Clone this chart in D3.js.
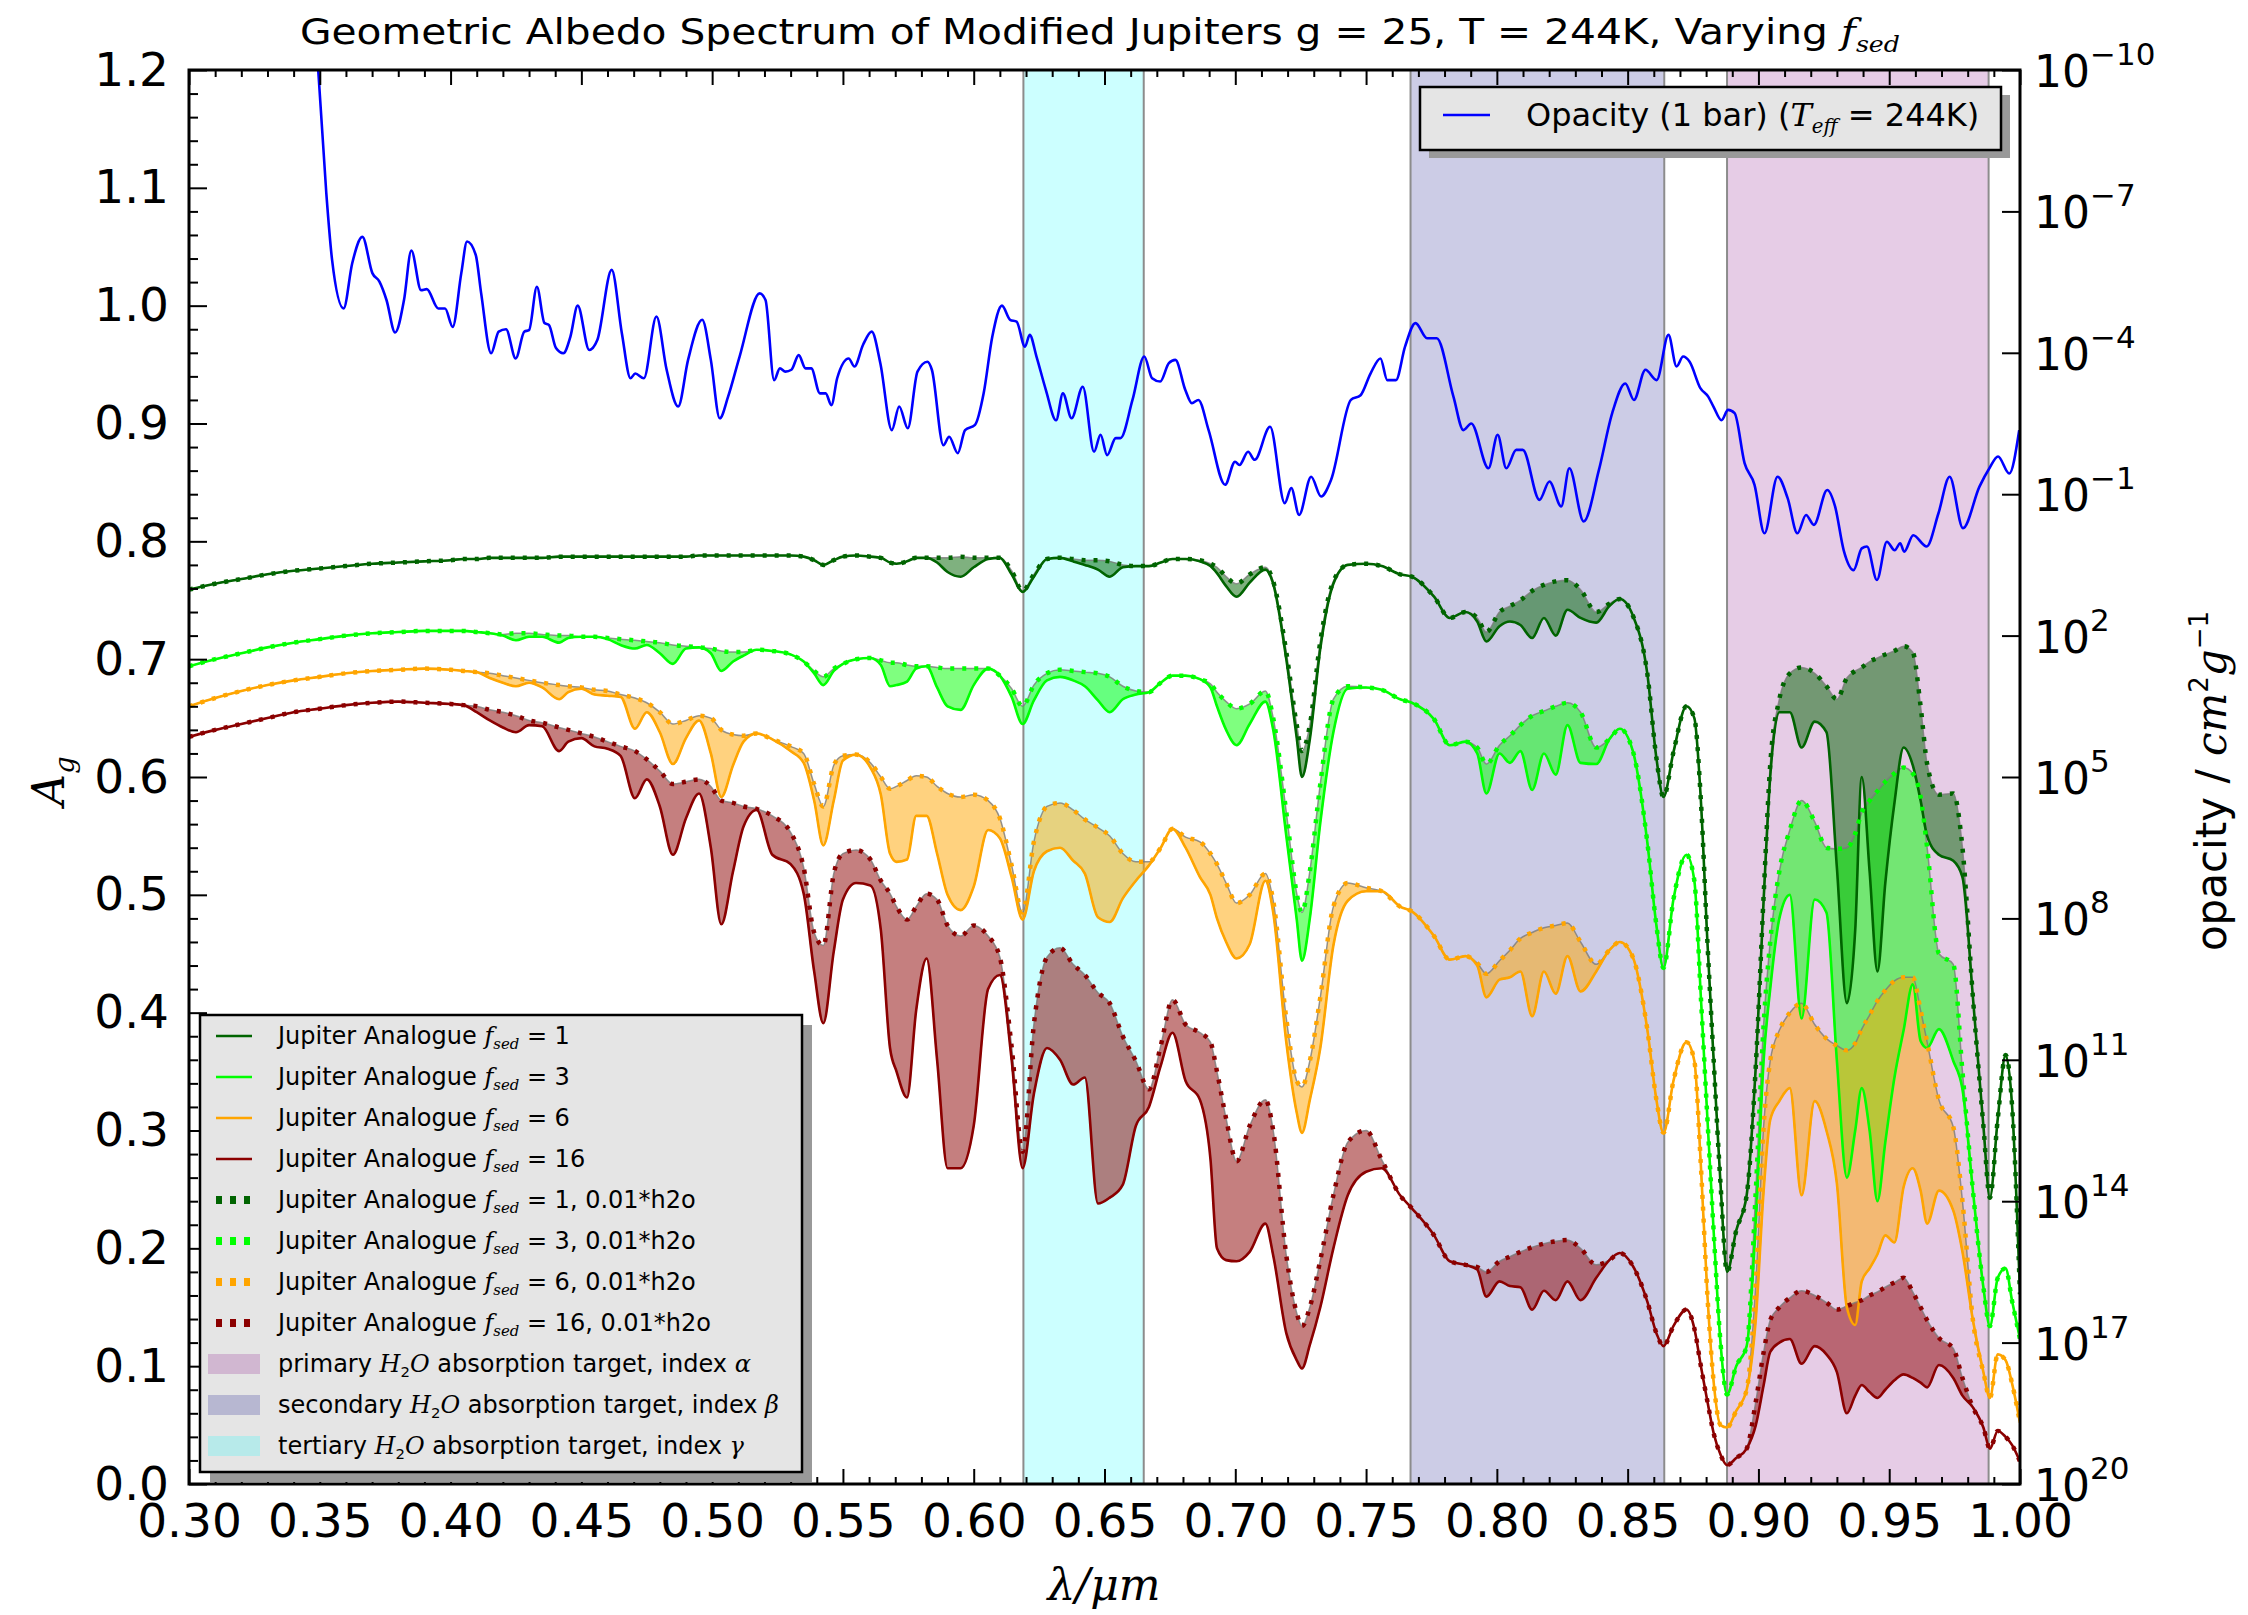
<!DOCTYPE html>
<html>
<head>
<meta charset="utf-8">
<script src="https://cdn.jsdelivr.net/npm/d3@7"></script>
<style>
  html, body { margin: 0; padding: 0; background: #ffffff; }
  svg text { font-family: "DejaVu Sans", sans-serif; fill: #000; }
</style>
</head>
<body>
<svg id="chart" width="2248" height="1615"></svg>
<script>
// ---------- data ----------
const wavelength = [
  0.300,0.310,0.320,0.330,0.340,0.350,0.360,0.370,0.380,0.390,
  0.400,0.405,0.410,0.415,0.420,0.425,0.430,0.435,0.4415,0.445,
  0.450,0.455,0.460,0.465,0.4705,0.475,0.480,0.485,0.490,0.495,
  0.4995,0.5035,0.508,0.512,0.517,0.523,0.530,0.535,0.539,0.5425,
  0.5465,0.550,0.555,0.5605,0.5645,0.568,0.5705,0.5745,0.578,0.582,
  0.586,0.590,0.595,0.600,0.6055,0.610,0.6145,0.6187,0.623,0.628,
  0.633,0.638,0.6425,0.6475,0.652,0.657,0.662,0.667,0.6715,0.676,
  0.681,0.6865,0.6905,0.693,0.6965,0.7005,0.7055,0.7115,0.7145,0.7195,
  0.7235,0.7255,0.7285,0.7325,0.7375,0.743,0.750,0.756,0.763,0.7675,
  0.776,0.782,0.788,0.7925,0.796,0.801,0.805,0.809,0.8135,0.818,
  0.8225,0.827,0.832,0.838,0.843,0.847,0.852,0.8575,0.861,0.8637,
  0.8675,0.8725,0.8755,0.878,0.8805,0.883,0.8855,0.888,0.8915,0.8955,
  0.899,0.902,0.9045,0.908,0.912,0.9165,0.9215,0.926,0.930,0.9338,
  0.937,0.9395,0.9425,0.9455,0.9485,0.952,0.9555,0.959,0.962,0.9645,
  0.969,0.9745,0.978,0.982,0.986,0.9885,0.9915,0.9945,0.997,1.000
];

const albedoFsed1 = [
  0.759,0.764,0.768,0.772,0.775,0.777,0.779,0.781,0.782,0.783,
  0.784,0.785,0.785,0.786,0.786,0.786,0.786,0.786,0.787,0.787,
  0.787,0.787,0.787,0.787,0.787,0.787,0.787,0.787,0.787,0.788,
  0.788,0.788,0.788,0.788,0.788,0.788,0.788,0.787,0.784,0.780,
  0.784,0.787,0.788,0.787,0.786,0.782,0.781,0.783,0.786,0.786,
  0.782,0.774,0.770,0.778,0.785,0.786,0.772,0.757,0.770,0.785,
  0.786,0.783,0.780,0.776,0.770,0.778,0.779,0.779,0.782,0.785,
  0.785,0.783,0.779,0.773,0.762,0.753,0.765,0.776,0.764,0.700,
  0.633,0.600,0.632,0.709,0.764,0.780,0.781,0.779,0.772,0.770,
  0.753,0.735,0.740,0.732,0.715,0.728,0.732,0.729,0.718,0.735,
  0.720,0.742,0.735,0.731,0.745,0.751,0.737,0.688,0.616,0.583,
  0.621,0.660,0.650,0.580,0.460,0.355,0.255,0.180,0.215,0.245,
  0.355,0.496,0.600,0.655,0.655,0.625,0.647,0.638,0.523,0.408,
  0.470,0.600,0.520,0.435,0.510,0.578,0.625,0.610,0.580,0.550,
  0.534,0.529,0.515,0.413,0.304,0.243,0.310,0.364,0.320,0.161
];
const albedoFsed1LowH2O = [
  0.759,0.764,0.768,0.772,0.775,0.777,0.779,0.781,0.782,0.783,
  0.784,0.785,0.785,0.786,0.786,0.786,0.786,0.786,0.787,0.787,
  0.787,0.787,0.787,0.787,0.787,0.787,0.787,0.787,0.787,0.788,
  0.788,0.788,0.788,0.788,0.788,0.788,0.788,0.787,0.784,0.780,
  0.784,0.787,0.788,0.787,0.786,0.782,0.781,0.783,0.786,0.786,
  0.786,0.786,0.787,0.786,0.786,0.786,0.775,0.758,0.772,0.785,
  0.786,0.785,0.784,0.784,0.783,0.780,0.779,0.779,0.782,0.785,
  0.785,0.784,0.781,0.778,0.770,0.764,0.772,0.778,0.766,0.706,
  0.644,0.622,0.644,0.715,0.766,0.780,0.781,0.779,0.772,0.770,
  0.753,0.735,0.740,0.735,0.723,0.740,0.745,0.750,0.758,0.763,
  0.766,0.767,0.759,0.740,0.747,0.751,0.737,0.688,0.616,0.583,
  0.621,0.660,0.650,0.580,0.460,0.355,0.255,0.180,0.215,0.245,
  0.355,0.500,0.610,0.666,0.688,0.693,0.688,0.677,0.666,0.684,
  0.690,0.693,0.698,0.701,0.704,0.707,0.711,0.706,0.660,0.611,
  0.585,0.586,0.540,0.413,0.304,0.243,0.310,0.364,0.320,0.161
];

const albedoFsed3 = [
  0.694,0.700,0.705,0.710,0.714,0.717,0.720,0.722,0.723,0.724,
  0.724,0.724,0.723,0.722,0.720,0.716,0.719,0.719,0.714,0.718,
  0.719,0.719,0.717,0.712,0.709,0.712,0.705,0.696,0.709,0.710,
  0.705,0.690,0.698,0.703,0.708,0.707,0.704,0.698,0.688,0.678,
  0.690,0.696,0.700,0.701,0.695,0.677,0.678,0.681,0.692,0.694,
  0.676,0.660,0.657,0.678,0.692,0.686,0.668,0.645,0.665,0.682,
  0.685,0.682,0.677,0.665,0.655,0.666,0.670,0.672,0.680,0.686,
  0.686,0.683,0.676,0.660,0.640,0.627,0.645,0.664,0.640,0.550,
  0.479,0.444,0.480,0.561,0.638,0.675,0.676,0.674,0.666,0.663,
  0.649,0.627,0.630,0.620,0.586,0.620,0.612,0.622,0.589,0.620,
  0.602,0.644,0.612,0.611,0.632,0.641,0.622,0.545,0.474,0.438,
  0.496,0.534,0.512,0.413,0.310,0.210,0.120,0.076,0.100,0.117,
  0.221,0.360,0.420,0.480,0.500,0.395,0.496,0.485,0.359,0.260,
  0.300,0.336,0.300,0.240,0.290,0.345,0.385,0.424,0.376,0.370,
  0.386,0.359,0.335,0.249,0.167,0.134,0.175,0.183,0.155,0.123
];
const albedoFsed3LowH2O = [
  0.694,0.700,0.705,0.710,0.714,0.717,0.720,0.722,0.723,0.724,
  0.724,0.724,0.723,0.722,0.721,0.722,0.722,0.721,0.720,0.720,
  0.719,0.719,0.718,0.717,0.716,0.715,0.714,0.712,0.711,0.710,
  0.709,0.707,0.706,0.706,0.708,0.707,0.704,0.698,0.690,0.685,
  0.692,0.696,0.700,0.701,0.699,0.697,0.697,0.695,0.694,0.694,
  0.693,0.692,0.692,0.692,0.692,0.686,0.675,0.660,0.678,0.688,
  0.691,0.690,0.689,0.688,0.685,0.677,0.673,0.672,0.680,0.686,
  0.686,0.683,0.679,0.672,0.664,0.658,0.662,0.673,0.650,0.570,
  0.501,0.485,0.520,0.594,0.666,0.677,0.676,0.674,0.666,0.663,
  0.649,0.627,0.630,0.625,0.611,0.627,0.635,0.644,0.652,0.656,
  0.660,0.663,0.655,0.625,0.632,0.641,0.622,0.545,0.474,0.438,
  0.496,0.534,0.512,0.413,0.310,0.210,0.120,0.076,0.100,0.117,
  0.249,0.390,0.460,0.520,0.555,0.580,0.562,0.540,0.539,0.540,
  0.552,0.570,0.580,0.588,0.596,0.603,0.608,0.603,0.583,0.540,
  0.450,0.441,0.350,0.249,0.167,0.134,0.175,0.183,0.155,0.123
];

const albedoFsed6 = [
  0.660,0.667,0.673,0.678,0.682,0.685,0.688,0.690,0.691,0.692,
  0.691,0.690,0.689,0.684,0.680,0.677,0.680,0.676,0.666,0.672,
  0.675,0.670,0.669,0.668,0.641,0.655,0.638,0.611,0.633,0.648,
  0.620,0.583,0.610,0.630,0.637,0.632,0.622,0.612,0.580,0.542,
  0.580,0.614,0.619,0.608,0.585,0.535,0.528,0.530,0.567,0.567,
  0.535,0.500,0.487,0.507,0.555,0.548,0.515,0.479,0.520,0.537,
  0.540,0.529,0.518,0.481,0.477,0.497,0.512,0.525,0.540,0.556,
  0.540,0.515,0.500,0.480,0.460,0.446,0.458,0.512,0.485,0.375,
  0.315,0.298,0.326,0.370,0.457,0.495,0.503,0.503,0.490,0.486,
  0.465,0.445,0.448,0.440,0.413,0.428,0.430,0.435,0.397,0.435,
  0.416,0.448,0.418,0.435,0.453,0.460,0.447,0.386,0.326,0.298,
  0.342,0.375,0.359,0.270,0.160,0.084,0.050,0.048,0.062,0.080,
  0.140,0.249,0.309,0.325,0.336,0.245,0.325,0.300,0.255,0.150,
  0.135,0.172,0.183,0.195,0.211,0.205,0.252,0.268,0.249,0.221,
  0.249,0.232,0.197,0.139,0.095,0.073,0.110,0.105,0.085,0.052
];
const albedoFsed6LowH2O = [
  0.660,0.667,0.673,0.678,0.682,0.685,0.688,0.690,0.691,0.692,
  0.691,0.690,0.689,0.688,0.686,0.684,0.682,0.680,0.678,0.677,
  0.676,0.674,0.673,0.670,0.667,0.663,0.655,0.645,0.648,0.652,
  0.650,0.640,0.636,0.635,0.637,0.632,0.626,0.620,0.594,0.575,
  0.610,0.618,0.619,0.612,0.600,0.590,0.592,0.597,0.601,0.600,
  0.592,0.586,0.583,0.585,0.580,0.565,0.525,0.485,0.545,0.575,
  0.578,0.572,0.564,0.557,0.550,0.535,0.528,0.528,0.540,0.556,
  0.549,0.545,0.535,0.526,0.510,0.493,0.500,0.518,0.495,0.395,
  0.342,0.337,0.359,0.413,0.490,0.510,0.506,0.503,0.490,0.486,
  0.465,0.445,0.448,0.442,0.433,0.444,0.453,0.463,0.468,0.472,
  0.474,0.476,0.460,0.441,0.453,0.460,0.447,0.386,0.326,0.298,
  0.342,0.375,0.359,0.270,0.160,0.084,0.050,0.048,0.062,0.080,
  0.170,0.304,0.359,0.385,0.400,0.408,0.390,0.378,0.372,0.368,
  0.374,0.386,0.398,0.410,0.419,0.427,0.430,0.430,0.402,0.375,
  0.326,0.303,0.240,0.139,0.095,0.073,0.110,0.105,0.085,0.052
];

const albedoFsed16 = [
  0.634,0.640,0.645,0.650,0.655,0.658,0.661,0.663,0.664,0.663,
  0.662,0.661,0.655,0.648,0.642,0.638,0.644,0.643,0.622,0.630,
  0.633,0.626,0.624,0.618,0.582,0.598,0.575,0.534,0.565,0.586,
  0.540,0.475,0.520,0.558,0.572,0.534,0.526,0.501,0.435,0.391,
  0.452,0.496,0.510,0.508,0.470,0.370,0.350,0.328,0.402,0.446,
  0.360,0.268,0.268,0.304,0.420,0.432,0.360,0.268,0.331,0.370,
  0.360,0.339,0.345,0.238,0.243,0.254,0.304,0.320,0.355,0.383,
  0.342,0.326,0.276,0.200,0.190,0.189,0.197,0.221,0.194,0.128,
  0.105,0.098,0.118,0.150,0.200,0.245,0.265,0.268,0.245,0.234,
  0.211,0.189,0.186,0.182,0.159,0.172,0.168,0.167,0.148,0.164,
  0.156,0.172,0.156,0.175,0.190,0.196,0.185,0.155,0.128,0.117,
  0.134,0.148,0.132,0.100,0.070,0.042,0.025,0.016,0.022,0.030,
  0.050,0.084,0.112,0.120,0.123,0.102,0.117,0.110,0.095,0.060,
  0.075,0.084,0.078,0.073,0.080,0.088,0.093,0.090,0.086,0.082,
  0.101,0.090,0.075,0.065,0.048,0.030,0.045,0.040,0.033,0.019
];
const albedoFsed16LowH2O = [
  0.634,0.640,0.645,0.650,0.655,0.658,0.661,0.663,0.664,0.663,
  0.662,0.661,0.660,0.657,0.655,0.652,0.648,0.646,0.642,0.640,
  0.637,0.634,0.630,0.626,0.622,0.615,0.605,0.594,0.596,0.598,
  0.592,0.580,0.578,0.575,0.573,0.567,0.553,0.523,0.468,0.457,
  0.518,0.535,0.538,0.530,0.512,0.501,0.490,0.479,0.490,0.501,
  0.496,0.474,0.465,0.474,0.465,0.447,0.371,0.282,0.390,0.447,
  0.455,0.441,0.432,0.417,0.408,0.380,0.359,0.335,0.372,0.411,
  0.390,0.383,0.375,0.350,0.310,0.274,0.304,0.326,0.300,0.194,
  0.145,0.134,0.150,0.190,0.245,0.290,0.300,0.275,0.245,0.234,
  0.211,0.189,0.186,0.184,0.180,0.189,0.193,0.197,0.201,0.204,
  0.206,0.207,0.200,0.186,0.190,0.196,0.185,0.155,0.128,0.117,
  0.134,0.148,0.132,0.100,0.070,0.042,0.025,0.016,0.022,0.030,
  0.070,0.112,0.139,0.150,0.158,0.164,0.160,0.154,0.148,0.151,
  0.154,0.156,0.160,0.163,0.167,0.171,0.175,0.163,0.150,0.139,
  0.124,0.115,0.090,0.065,0.048,0.030,0.045,0.040,0.033,0.019
];

// opacity at 1 bar: wavelength (µm) and log10(opacity / cm^2 g^-1)
const opacityWavelength = [
  0.3494,0.3525,0.3547,0.3591,0.3624,0.3663,0.3701,0.3728,0.3755,0.3788,
  0.3822,0.3850,0.3887,0.3909,0.3953,0.3979,0.4008,0.4041,0.4063,0.4096,
  0.4117,0.4155,0.4184,0.4212,0.4249,0.4282,0.4300,0.4330,0.4359,0.4376,
  0.4403,0.4431,0.4458,0.4486,0.4530,0.4561,0.4616,0.4655,0.4688,0.4706,
  0.4739,0.4787,0.4826,0.4870,0.4908,0.4962,0.4995,0.5029,0.5061,0.5105,
  0.5182,0.5204,0.5237,0.5259,0.5280,0.5303,0.5331,0.5357,0.5379,0.5412,
  0.5434,0.5456,0.5478,0.5522,0.5544,0.5577,0.5610,0.5643,0.5687,0.5715,
  0.5748,0.5785,0.5823,0.5840,0.5884,0.5906,0.5939,0.5967,0.6005,0.6038,
  0.6071,0.6108,0.6139,0.6164,0.6196,0.6214,0.6240,0.6276,0.6315,0.6341,
  0.6374,0.6417,0.6460,0.6485,0.6510,0.6543,0.6561,0.6607,0.6652,0.6682,
  0.6713,0.6746,0.6771,0.6809,0.6834,0.6859,0.6898,0.6961,0.6999,0.7016,
  0.7049,0.7074,0.7133,0.7189,0.7214,0.7244,0.7290,0.7328,0.7366,0.7442,
  0.7479,0.7517,0.7555,0.7581,0.7614,0.7649,0.7689,0.7733,0.7770,0.7834,
  0.7872,0.7902,0.7968,0.8003,0.8036,0.8074,0.8099,0.8163,0.8201,0.8246,
  0.8277,0.8332,0.8390,0.8441,0.8491,0.8524,0.8568,0.8611,0.8656,0.8687,
  0.8712,0.8737,0.8778,0.8808,0.8828,0.8859,0.8884,0.8909,0.8947,0.8985,
  0.9023,0.9073,0.9112,0.9149,0.9182,0.9212,0.9263,0.9293,0.9326,0.9364,
  0.9395,0.9415,0.9453,0.9491,0.9521,0.9542,0.9557,0.9592,0.9643,0.9688,
  0.9731,0.9782,0.9845,0.9883,0.9916,0.9959,0.9997
];
const opacityLog10 = [
  -10.0,-7.38,-5.97,-4.94,-5.90,-6.46,-5.69,-5.51,-5.12,-4.43,
  -5.12,-6.17,-5.33,-5.35,-4.94,-4.94,-4.55,-5.69,-6.36,-6.08,
  -5.26,-3.99,-4.45,-4.50,-3.88,-4.45,-4.48,-5.40,-4.63,-4.59,
  -4.10,-3.99,-4.34,-5.00,-4.06,-4.27,-5.76,-4.41,-3.46,-3.56,
  -3.46,-4.77,-3.64,-2.86,-3.85,-4.70,-3.85,-2.61,-3.07,-3.92,
  -5.26,-5.12,-3.42,-3.67,-3.60,-3.64,-3.95,-3.67,-3.67,-3.14,
  -3.14,-2.89,-3.46,-3.88,-3.71,-4.17,-4.45,-3.78,-2.36,-2.86,
  -2.40,-3.60,-3.81,-3.64,-2.04,-2.22,-1.87,-2.36,-2.47,-3.14,
  -4.34,-5.00,-4.70,-4.66,-4.13,-4.38,-3.92,-3.21,-2.57,-3.14,
  -2.61,-3.28,-1.90,-2.26,-1.83,-2.19,-2.19,-3.00,-3.92,-3.46,
  -3.39,-3.78,-3.85,-3.21,-2.93,-3.00,-2.36,-1.20,-1.69,-1.62,
  -1.90,-1.73,-2.43,-0.81,-1.13,-0.56,-1.37,-0.95,-1.30,-3.00,
  -3.10,-3.56,-3.88,-3.42,-3.42,-4.13,-4.63,-4.31,-4.31,-3.07,
  -2.36,-2.50,-1.55,-2.26,-1.55,-1.94,-1.94,-0.88,-1.27,-0.74,
  -1.55,-0.42,-1.51,-2.72,-3.35,-3.00,-3.64,-3.42,-4.38,-3.71,
  -3.92,-3.81,-3.25,-3.07,-2.86,-2.57,-2.79,-2.72,-1.66,-1.20,
  -0.17,-1.37,-0.91,-0.17,-0.56,-0.35,-1.09,-0.74,0.19,0.61,
  0.15,0.11,0.82,0.01,0.19,0.04,0.22,-0.13,0.11,-0.59,
  -1.37,-0.28,-1.16,-1.55,-1.80,-1.44,-2.36
];

// water absorption windows (µm)
const bandNames = ["primary", "secondary", "tertiary"];
const bandStart = [0.888, 0.767, 0.619];
const bandEnd   = [0.988, 0.864, 0.665];

// axis ticks
const wavelengthTicks = [0.30,0.35,0.40,0.45,0.50,0.55,0.60,0.65,0.70,0.75,0.80,0.85,0.90,0.95,1.00];
const albedoTicks = [0.0,0.1,0.2,0.3,0.4,0.5,0.6,0.7,0.8,0.9,1.0,1.1,1.2];
const opacityExponents = [-10,-7,-4,-1,2,5,8,11,14,17,20];

// ---------- layout ----------
const svg = d3.select("#chart");
const plot = { left: 189, right: 2020, top: 70, bottom: 1484 };

const x = d3.scaleLinear().domain([0.3, 1.0]).range([plot.left, plot.right]);
const y = d3.scaleLinear().domain([0, 1.2]).range([plot.bottom, plot.top]);
const yOpacity = d3.scaleLog().domain([1e-10, 1e20]).range([plot.top, plot.bottom]);

svg.append("rect").attr("width", 2248).attr("height", 1615).attr("fill", "#ffffff");

svg.append("defs").append("clipPath").attr("id", "plotClip")
  .append("rect")
  .attr("x", plot.left).attr("y", plot.top)
  .attr("width", plot.right - plot.left).attr("height", plot.bottom - plot.top);

const bandColor = { primary: "purple", secondary: "navy", tertiary: "cyan" };

// ---------- absorption windows ----------
const bandLayer = svg.append("g").attr("clip-path", "url(#plotClip)");
bandNames.forEach((name, i) => {
  bandLayer.append("rect")
    .attr("x", x(bandStart[i])).attr("y", plot.top)
    .attr("width", x(bandEnd[i]) - x(bandStart[i]))
    .attr("height", plot.bottom - plot.top)
    .attr("fill", bandColor[name]).attr("fill-opacity", 0.2);
  [bandStart[i], bandEnd[i]].forEach(v => {
    bandLayer.append("line")
      .attr("x1", x(v)).attr("x2", x(v))
      .attr("y1", plot.top).attr("y2", plot.bottom)
      .attr("stroke", "#8c8c8c").attr("stroke-width", 2);
  });
});

// ---------- albedo spectra ----------
const series = [
  { base: albedoFsed1,  low: albedoFsed1LowH2O,  color: "#006400" },
  { base: albedoFsed3,  low: albedoFsed3LowH2O,  color: "#00ff00" },
  { base: albedoFsed6,  low: albedoFsed6LowH2O,  color: "#ffa500" },
  { base: albedoFsed16, low: albedoFsed16LowH2O, color: "#8b0000" }
];
const idx = d3.range(wavelength.length);
const curveLayer = svg.append("g").attr("clip-path", "url(#plotClip)");

series.forEach(s => {
  const area = d3.area()
    .x(i => x(wavelength[i]))
    .y0(i => y(s.base[i]))
    .y1(i => y(s.low[i]))
    .curve(d3.curveMonotoneX);
  curveLayer.append("path").datum(idx)
    .attr("d", area)
    .attr("fill", s.color).attr("fill-opacity", 0.5)
    .attr("stroke", "#7a7a7a").attr("stroke-width", 1.5).attr("stroke-opacity", 0.8);
});

const lineOf = arr => d3.line()
  .x(i => x(wavelength[i]))
  .y(i => y(arr[i]))
  .curve(d3.curveMonotoneX);

series.forEach(s => {
  curveLayer.append("path").datum(idx)
    .attr("d", lineOf(s.base))
    .attr("fill", "none").attr("stroke", s.color)
    .attr("stroke-width", 2.6).attr("stroke-linejoin", "round");
});
series.forEach(s => {
  curveLayer.append("path").datum(idx)
    .attr("d", lineOf(s.low))
    .attr("fill", "none").attr("stroke", s.color)
    .attr("stroke-width", 4.5).attr("stroke-dasharray", "4,8");
});

// ---------- opacity (right axis) ----------
const opIdx = d3.range(opacityWavelength.length);
curveLayer.append("path").datum(opIdx)
  .attr("d", d3.line()
    .x(i => x(opacityWavelength[i]))
    .y(i => yOpacity(Math.pow(10, opacityLog10[i])))
    .curve(d3.curveMonotoneX))
  .attr("fill", "none").attr("stroke", "#0000ff")
  .attr("stroke-width", 2.6).attr("stroke-linejoin", "round");

// ---------- axes ----------
const minorRange = (a, b, step) => d3.range(Math.round((b - a) / step) + 1).map(k => +(a + k * step).toFixed(4));
const wlMinor = minorRange(0.30, 1.00, 0.01).filter(v => !wavelengthTicks.some(t => Math.abs(t - v) < 1e-6));
const agMinor = minorRange(0.0, 1.2, 0.02).filter(v => !albedoTicks.some(t => Math.abs(t - v) < 1e-6));

function styleAxis(g) {
  g.select(".domain").remove();
  g.selectAll(".tick line").attr("stroke", "#000").attr("stroke-width", 2);
}

svg.append("g").attr("transform", `translate(0,${plot.bottom})`)
  .call(d3.axisBottom(x).tickValues(wavelengthTicks).tickFormat(d3.format(".2f"))
    .tickSizeInner(-15).tickSizeOuter(0).tickPadding(20))
  .call(styleAxis)
  .call(g => g.selectAll("text").attr("font-size", 47).attr("font-family", "DejaVu Sans"));
svg.append("g").attr("transform", `translate(0,${plot.bottom})`)
  .call(d3.axisBottom(x).tickValues(wlMinor).tickFormat("").tickSizeInner(-7).tickSizeOuter(0))
  .call(styleAxis);
svg.append("g").attr("transform", `translate(0,${plot.top})`)
  .call(d3.axisTop(x).tickValues(wavelengthTicks).tickFormat("").tickSizeInner(-15).tickSizeOuter(0))
  .call(styleAxis);
svg.append("g").attr("transform", `translate(0,${plot.top})`)
  .call(d3.axisTop(x).tickValues(wlMinor).tickFormat("").tickSizeInner(-7).tickSizeOuter(0))
  .call(styleAxis);

svg.append("g").attr("transform", `translate(${plot.left},0)`)
  .call(d3.axisLeft(y).tickValues(albedoTicks).tickFormat(d3.format(".1f"))
    .tickSizeInner(-18).tickSizeOuter(0).tickPadding(20))
  .call(styleAxis)
  .call(g => g.selectAll("text").attr("font-size", 47).attr("font-family", "DejaVu Sans"));
svg.append("g").attr("transform", `translate(${plot.left},0)`)
  .call(d3.axisLeft(y).tickValues(agMinor).tickFormat("").tickSizeInner(-9).tickSizeOuter(0))
  .call(styleAxis);

const rightAxis = svg.append("g").attr("transform", `translate(${plot.right},0)`)
  .call(d3.axisRight(yOpacity).tickValues(opacityExponents.map(e => Math.pow(10, e)))
    .tickFormat(() => "").tickSizeInner(-18).tickSizeOuter(0))
  .call(styleAxis);
rightAxis.selectAll(".tick text").remove();
opacityExponents.forEach(e => {
  const t = svg.append("text")
    .attr("x", plot.right + 14).attr("y", yOpacity(Math.pow(10, e)) + 17)
    .attr("font-size", 44).attr("font-family", "DejaVu Sans");
  t.append("tspan").text("10");
  t.append("tspan").attr("dy", -22).attr("font-size", 31)
    .text(e < 0 ? "\u2212" + Math.abs(e) : String(e));
});

// frame
svg.append("rect")
  .attr("x", plot.left).attr("y", plot.top)
  .attr("width", plot.right - plot.left).attr("height", plot.bottom - plot.top)
  .attr("fill", "none").attr("stroke", "#000").attr("stroke-width", 3);

// ---------- rich text helper (italic math + sub/superscripts) ----------
function rich(sel, parts, size) {
  let shift = 0;
  parts.forEach(p => {
    const ts = sel.append("tspan").text(p.t);
    let target = 0;
    if (p.sub) target = size * 0.22;
    if (p.sup) target = -size * 0.42;
    if (target - shift !== 0) ts.attr("dy", target - shift);
    shift = target;
    if (p.sub || p.sup) ts.attr("font-size", size * 0.62);
    if (p.it) ts.attr("font-style", "italic").attr("font-family", "DejaVu Serif");
  });
  return sel;
}

// ---------- title & axis labels ----------
rich(svg.append("text").attr("x", 1100).attr("y", 44).attr("text-anchor", "middle")
    .attr("font-size", 36).attr("textLength", 1600).attr("lengthAdjust", "spacingAndGlyphs"),
  [{ t: "Geometric Albedo Spectrum of Modified Jupiters g = 25, T = 244K, Varying " },
   { t: "f", it: true }, { t: "sed", it: true, sub: true }], 36);

rich(svg.append("text").attr("x", 1104).attr("y", 1600).attr("text-anchor", "middle").attr("font-size", 44),
  [{ t: "\u03bb/\u03bcm", it: true }], 44);

rich(svg.append("text").attr("transform", "translate(64,781) rotate(-90)")
  .attr("text-anchor", "middle").attr("font-size", 44),
  [{ t: "A", it: true }, { t: "g", it: true, sub: true }], 44);

rich(svg.append("text").attr("transform", "translate(2226,781) rotate(-90)")
  .attr("text-anchor", "middle").attr("font-size", 42),
  [{ t: "opacity / " }, { t: "cm", it: true }, { t: "2", sup: true }, { t: "g", it: true }, { t: "\u22121", sup: true }], 42);

// ---------- legend: opacity ----------
const lg1 = svg.append("g");
lg1.append("rect").attr("x", 1429).attr("y", 95).attr("width", 581).attr("height", 63).attr("fill", "#999999");
lg1.append("rect").attr("x", 1420).attr("y", 87).attr("width", 581).attr("height", 63)
  .attr("fill", "#e5e5e5").attr("stroke", "#000").attr("stroke-width", 2.5);
lg1.append("line").attr("x1", 1443).attr("x2", 1490).attr("y1", 115).attr("y2", 115)
  .attr("stroke", "#0000ff").attr("stroke-width", 2.6);
rich(lg1.append("text").attr("x", 1526).attr("y", 126).attr("font-size", 32),
  [{ t: "Opacity (1 bar) (" }, { t: "T", it: true }, { t: "eff", it: true, sub: true }, { t: " = 244K)" }], 32);

// ---------- legend: spectra & windows ----------
const lg2 = svg.append("g");
lg2.append("rect").attr("x", 210).attr("y", 1025).attr("width", 602).attr("height", 457).attr("fill", "#999999");
lg2.append("rect").attr("x", 200).attr("y", 1015).attr("width", 602).attr("height", 457)
  .attr("fill", "#e5e5e5").attr("stroke", "#000").attr("stroke-width", 2.5);

const fsedValues = ["1", "3", "6", "16"];
const rowY = k => 1036 + k * 41;
const fs = 24;
series.forEach((s, k) => {
  lg2.append("line").attr("x1", 216).attr("x2", 252).attr("y1", rowY(k)).attr("y2", rowY(k))
    .attr("stroke", s.color).attr("stroke-width", 2.6);
  rich(lg2.append("text").attr("x", 278).attr("y", rowY(k) + 8).attr("font-size", fs),
    [{ t: (k === 1 || k === 2) ? "Jupiter Analogue  " : "Jupiter Analogue " },
     { t: "f", it: true }, { t: "sed", it: true, sub: true }, { t: " = " + fsedValues[k] }], fs);
});
series.forEach((s, k) => {
  const r = k + 4;
  lg2.append("line").attr("x1", 216).attr("x2", 253).attr("y1", rowY(r)).attr("y2", rowY(r))
    .attr("stroke", s.color).attr("stroke-width", 8).attr("stroke-dasharray", "6,8");
  rich(lg2.append("text").attr("x", 278).attr("y", rowY(r) + 8).attr("font-size", fs),
    [{ t: "Jupiter Analogue " }, { t: "f", it: true }, { t: "sed", it: true, sub: true },
     { t: " = " + fsedValues[k] + ", 0.01*h2o" }], fs);
});
const bandGreek = ["\u03b1", "\u03b2", "\u03b3"];
bandNames.forEach((name, k) => {
  const r = k + 8;
  lg2.append("rect").attr("x", 208).attr("y", rowY(r) - 10).attr("width", 52).attr("height", 20)
    .attr("fill", bandColor[name]).attr("fill-opacity", 0.2);
  rich(lg2.append("text").attr("x", 278).attr("y", rowY(r) + 8).attr("font-size", fs),
    [{ t: name + " " }, { t: "H", it: true }, { t: "2", sub: true }, { t: "O", it: true },
     { t: " absorption target, index " }, { t: bandGreek[k], it: true }], fs);
});
</script>
</body>
</html>
